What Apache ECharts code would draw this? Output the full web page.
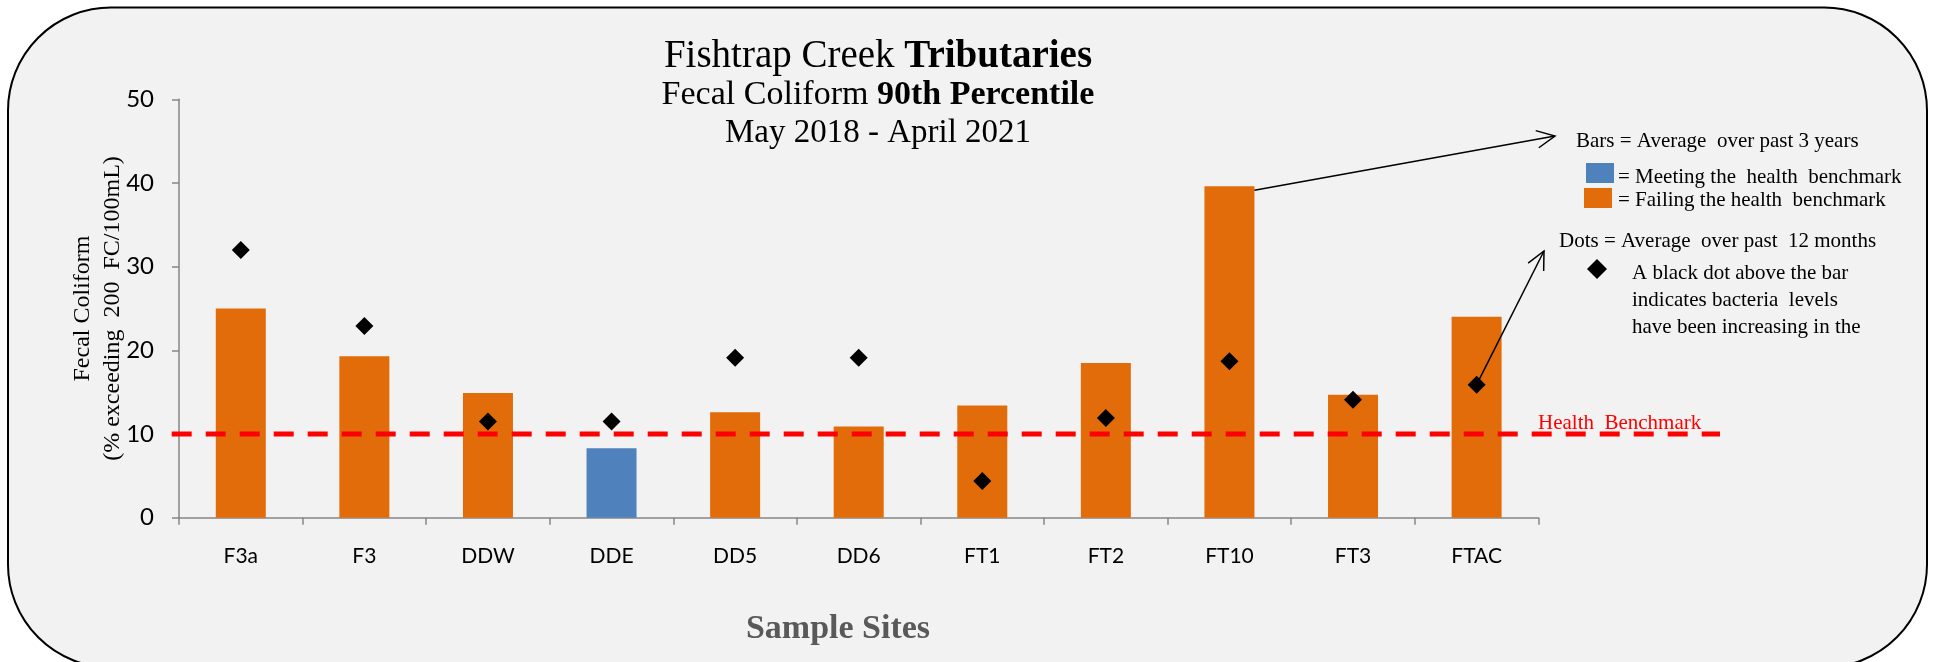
<!DOCTYPE html>
<html lang="en">
<head>
<meta charset="UTF-8">
<style>
html, body { height: 100%; margin: 0; background: #fff; }
#chart { width: 1935px; height: 662px; }
</style>
</head>
<body>
<div id="chart"></div>
<script src="https://cdn.jsdelivr.net/npm/echarts@6/dist/echarts.min.js"></script>
<script>
// data
var sites = ['F3a', 'F3', 'DDW', 'DDE', 'DD5', 'DD6', 'FT1', 'FT2', 'FT10', 'FT3', 'FTAC'];
var avg3yr = [25.0, 19.3, 14.9, 8.3, 12.6, 10.9, 13.4, 18.5, 39.6, 14.7, 24.0];   // bars
var avg12mo = [32.0, 22.9, 11.5, 11.5, 19.1, 19.1, 4.4, 11.9, 18.7, 14.1, 15.9]; // diamonds
var benchmark = 10;
var yMin = 0, yMax = 50, yStep = 10;

var ORANGE = '#E36C0A', BLUE = '#4F81BD';
var SERIF = '"Liberation Serif", "DejaVu Serif", serif';
var SANS = 'Lato, "Open Sans", sans-serif';

var plot = { left: 179, top: 99.3, width: 1359.4, height: 418.4 };
var barW = 50;

var myChart = echarts.init(document.getElementById('chart'));

var bars = avg3yr.map(function (v) {
    return { value: v, itemStyle: { color: v <= benchmark ? BLUE : ORANGE } };
});

myChart.setOption({
    backgroundColor: '#ffffff',
    animation: false,
    title: {
        left: 878,
        top: 38,
        textAlign: 'center',
        padding: 0,
        text: '{n1|Fishtrap Creek }{b1|Tributaries}\n{n2|Fecal Coliform }{b2|90th Percentile}\n{n3|May 2018 - April 2021}',
        textStyle: {
            fontWeight: 'normal',
            rich: {
                n1: { fontFamily: SERIF, fontSize: 39, fontWeight: 'normal', color: '#000', lineHeight: 38 },
                b1: { fontFamily: SERIF, fontSize: 39, fontWeight: 'bold', color: '#000', lineHeight: 38 },
                n2: { fontFamily: SERIF, fontSize: 34, fontWeight: 'normal', color: '#000', lineHeight: 38 },
                b2: { fontFamily: SERIF, fontSize: 34, fontWeight: 'bold', color: '#000', lineHeight: 38 },
                n3: { fontFamily: SERIF, fontSize: 33, fontWeight: 'normal', color: '#000', lineHeight: 38 }
            }
        }
    },
    grid: [
        { left: plot.left, top: plot.top, width: plot.width, height: plot.height },
        // benchmark line runs past the plot, into the notes
        { left: 171.7, top: plot.top, width: 1720 - 171.7, height: plot.height }
    ],
    xAxis: [{
        type: 'category',
        data: sites,
        gridIndex: 0,
        axisLine: { lineStyle: { color: '#868686', width: 1.5 } },
        axisTick: { show: true, length: 7, alignWithLabel: false, lineStyle: { color: '#868686', width: 1.5 } },
        axisLabel: { margin: 28, color: '#000', fontFamily: SANS, fontSize: 21 },
        splitLine: { show: false }
    }, {
        type: 'value', gridIndex: 1, min: 0, max: 1, show: false
    }],
    yAxis: [{
        type: 'value',
        gridIndex: 0,
        min: yMin, max: yMax, interval: yStep,
        name: 'Fecal Coliform\n(% exceeding  200  FC/100mL)',
        nameLocation: 'middle',
        nameGap: 51,
        nameMoveOverlap: false,
        nameTextStyle: { fontFamily: SERIF, fontSize: 24, color: '#000', lineHeight: 30 },
        axisLine: { show: true, lineStyle: { color: '#868686', width: 1.5 } },
        axisTick: { show: true, length: 7, lineStyle: { color: '#868686', width: 1.5 } },
        axisLabel: { margin: 25, color: '#000', fontFamily: SANS, fontSize: 24 },
        splitLine: { show: false }
    }, {
        type: 'value', gridIndex: 1, min: yMin, max: yMax, show: false
    }],
    series: [{
        name: 'Average over past 3 years',
        type: 'bar',
        data: bars,
        barWidth: barW,
        z: 2
    }, {
        name: 'Health Benchmark',
        type: 'line',
        xAxisIndex: 1,
        yAxisIndex: 1,
        data: [[0, benchmark], [1, benchmark]],
        symbol: 'none',
        lineStyle: { color: '#FF0000', width: 5, type: [20, 14] },
        z: 3
    }, {
        name: 'Average over past 12 months',
        type: 'scatter',
        data: avg12mo,
        symbol: 'diamond',
        symbolSize: 18,
        itemStyle: { color: '#000', opacity: 1 },
        z: 4
    }]
});

// arrows from the bars/dots to the notes
function arrow(from, to) {
    var dx = to[0] - from[0], dy = to[1] - from[1];
    var a = Math.atan2(dy, dx), len = 20, spread = 0.45;
    return [
        { type: 'line', shape: { x1: from[0], y1: from[1], x2: to[0], y2: to[1] }, style: { stroke: '#000', lineWidth: 1.5 }, z: 10 },
        { type: 'polyline', shape: { points: [
            [to[0] - len * Math.cos(a - spread), to[1] - len * Math.sin(a - spread)],
            to,
            [to[0] - len * Math.cos(a + spread), to[1] - len * Math.sin(a + spread)]
        ] }, style: { stroke: '#000', fill: null, lineWidth: 1.5 }, z: 10 }
    ];
}

var topFT10 = myChart.convertToPixel({ xAxisIndex: 0, yAxisIndex: 0 }, [sites[8], avg3yr[8]]);
var dotFTAC = myChart.convertToPixel({ xAxisIndex: 0, yAxisIndex: 0 }, [sites[10], avg12mo[10]]);
var benchY = myChart.convertToPixel({ xAxisIndex: 0, yAxisIndex: 0 }, [sites[0], benchmark])[1];

function note(x, y, text, extra) {
    var s = { x: x, y: y, text: text, fill: '#000', font: '21px ' + SERIF, textVerticalAlign: 'middle' };
    if (extra) { for (var k in extra) s[k] = extra[k]; }
    return { type: 'text', style: s, z: 10 };
}

var graphics = [
    { type: 'rect', shape: { x: 8, y: 7.5, width: 1919, height: 660, r: 103 },
      style: { fill: '#f2f2f2', stroke: '#000', lineWidth: 2 }, z: -100 },
    note(1576, 141, 'Bars = Average  over past 3 years'),
    { type: 'rect', shape: { x: 1586, y: 163, width: 28, height: 20 }, style: { fill: BLUE }, z: 10 },
    note(1618, 177, '= Meeting the  health  benchmark'),
    { type: 'rect', shape: { x: 1584, y: 188, width: 28, height: 20 }, style: { fill: ORANGE }, z: 10 },
    note(1618, 200, '= Failing the health  benchmark'),
    note(1559, 241, 'Dots = Average  over past  12 months'),
    { type: 'polygon', shape: { points: [[1597, 259], [1607, 269], [1597, 279], [1587, 269]] }, style: { fill: '#000' }, z: 10 },
    note(1632, 273, 'A black dot above the bar'),
    note(1632, 300, 'indicates bacteria  levels'),
    note(1632, 327, 'have been increasing in the'),
    note(1538, benchY - 11, 'Health  Benchmark', { fill: '#FF0000', font: '21px ' + SERIF }),
    note(838, 629, 'Sample Sites', { font: 'bold 34px ' + SERIF, fill: '#595959', textAlign: 'center' })
];
graphics = graphics.concat(arrow([topFT10[0] + barW / 2, topFT10[1] + 4], [1555, 136]));
graphics = graphics.concat(arrow([dotFTAC[0], dotFTAC[1]], [1544, 251]));

myChart.setOption({ graphic: graphics });
</script>
</body>
</html>
